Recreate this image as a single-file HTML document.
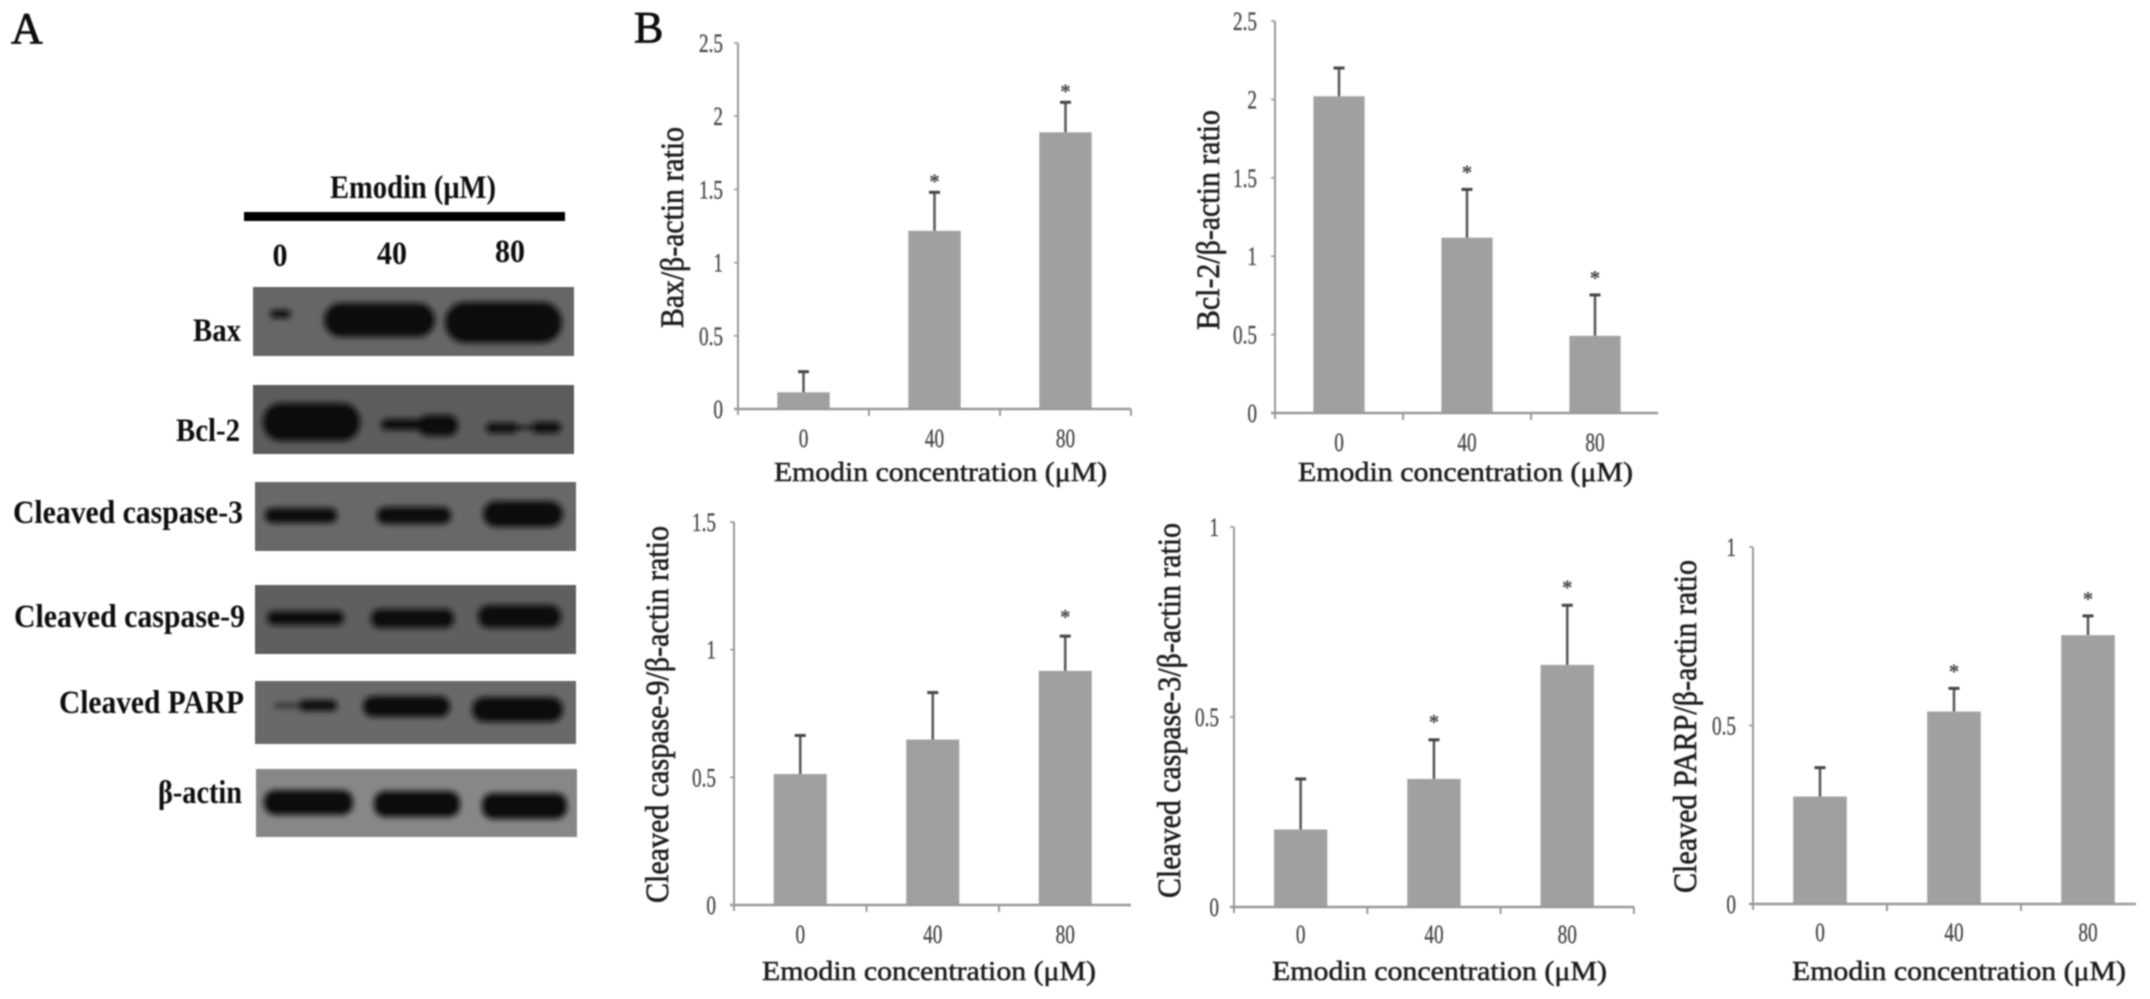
<!DOCTYPE html>
<html lang="en">
<head>
<meta charset="utf-8">
<title>Emodin western blot and quantification</title>
<style>
html,body{margin:0;padding:0;background:#fff;width:2150px;height:999px;overflow:hidden}
svg{display:block;font-family:"Liberation Serif","Noto Serif CJK SC",serif}
</style>
</head>
<body>
<svg id="fig" xmlns="http://www.w3.org/2000/svg" width="2150" height="999" viewBox="0 0 2150 999">
<defs>
<filter id="soft" x="-5%" y="-5%" width="110%" height="110%"><feGaussianBlur stdDeviation="0.7"/></filter>
<filter id="band" x="-20%" y="-60%" width="140%" height="220%"><feGaussianBlur stdDeviation="3"/></filter>
</defs>
<rect width="2150" height="999" fill="#fff"/>
<g id="root" filter="url(#soft)">
<text x="11" y="43" font-size="44" fill="#111" stroke="#111" stroke-width="0.8">A</text>
<text x="634" y="42" font-size="44" fill="#111" stroke="#111" stroke-width="0.8">B</text>

<g fill="#111">
<text x="330" y="198" font-size="33" font-weight="bold" textLength="166" lengthAdjust="spacingAndGlyphs">Emodin (μM)</text>
<rect x="244" y="212" width="321" height="9" fill="#000"/>
<text x="280" y="266" font-size="33" font-weight="bold" text-anchor="middle" textLength="15" lengthAdjust="spacingAndGlyphs">0</text>
<text x="392" y="264" font-size="33" font-weight="bold" text-anchor="middle" textLength="30" lengthAdjust="spacingAndGlyphs">40</text>
<text x="510" y="262" font-size="33" font-weight="bold" text-anchor="middle" textLength="30" lengthAdjust="spacingAndGlyphs">80</text>

<text x="193" y="341" font-size="33" font-weight="bold" textLength="48" lengthAdjust="spacingAndGlyphs">Bax</text>
<text x="176" y="441" font-size="33" font-weight="bold" textLength="64" lengthAdjust="spacingAndGlyphs">Bcl-2</text>
<text x="13" y="523" font-size="33" font-weight="bold" textLength="230" lengthAdjust="spacingAndGlyphs">Cleaved caspase-3</text>
<text x="14" y="627" font-size="33" font-weight="bold" textLength="231" lengthAdjust="spacingAndGlyphs">Cleaved caspase-9</text>
<text x="59" y="713" font-size="33" font-weight="bold" textLength="185" lengthAdjust="spacingAndGlyphs">Cleaved PARP</text>
<text x="158" y="803" font-size="33" font-weight="bold" textLength="84" lengthAdjust="spacingAndGlyphs">β-actin</text>

<g>
<rect x="253" y="287" width="321" height="69" fill="#666"/>
<g filter="url(#band)" fill="#0c0c0c">
<rect x="270" y="310" width="21" height="8" rx="4"/>
<rect x="324" y="303" width="111" height="34" rx="17"/>
<rect x="445" y="302" width="117" height="41" rx="20"/>
</g></g>

<g>
<rect x="253" y="385" width="321" height="69" fill="#5c5c5c"/>
<g filter="url(#band)" fill="#0a0a0a">
<rect x="263" y="403" width="97" height="38" rx="18"/>
<rect x="381" y="419" width="54" height="11" rx="5"/>
<rect x="418" y="415" width="40" height="21" rx="10"/>
<rect x="486" y="423" width="32" height="10" rx="5"/>
<rect x="532" y="422" width="29" height="11" rx="5"/>
<rect x="510" y="426" width="30" height="3"/>
</g></g>

<g>
<rect x="255" y="482" width="321" height="69" fill="#686868"/>
<g filter="url(#band)" fill="#0e0e0e">
<rect x="265" y="508" width="72" height="15" rx="7"/>
<rect x="377" y="507" width="74" height="17" rx="8"/>
<rect x="483" y="501" width="80" height="26" rx="13"/>
</g></g>

<g>
<rect x="255" y="585" width="321" height="69" fill="#5e5e5e"/>
<g filter="url(#band)" fill="#0c0c0c">
<rect x="267" y="611" width="77" height="14" rx="7"/>
<rect x="371" y="609" width="83" height="19" rx="9"/>
<rect x="478" y="605" width="83" height="23" rx="11"/>
</g></g>

<g>
<rect x="255" y="681" width="321" height="63" fill="#696969"/>
<g filter="url(#band)" fill="#0d0d0d">
<rect x="298" y="700" width="39" height="11" rx="5"/>
<rect x="274" y="703" width="28" height="5" rx="2" fill="#333"/>
<rect x="363" y="696" width="87" height="21" rx="10"/>
<rect x="472" y="697" width="91" height="25" rx="12"/>
</g></g>

<g>
<rect x="256" y="769" width="321" height="68" fill="#878787"/>
<g filter="url(#band)" fill="#0e0e0e">
<rect x="264" y="790" width="89" height="25" rx="11"/>
<rect x="374" y="791" width="86" height="26" rx="11"/>
<rect x="482" y="793" width="85" height="26" rx="11"/>
</g></g>
</g>
<g id="charts"></g>
</g>
</svg>
<script>
const categories = ['0', '40', '80'];

const baxValues = [0.114, 1.217, 1.89];
const baxErrors = [0.141, 0.263, 0.205];
const baxStars = [0, 1, 1];
const baxTicks = ['0', '0.5', '1', '1.5', '2', '2.5'];

const bcl2Values = [2.02, 1.118, 0.492];
const bcl2Errors = [0.18, 0.308, 0.261];
const bcl2Stars = [0, 1, 1];
const bcl2Ticks = ['0', '0.5', '1', '1.5', '2', '2.5'];

const casp9Values = [0.513, 0.648, 0.917];
const casp9Errors = [0.151, 0.184, 0.136];
const casp9Stars = [0, 0, 1];
const casp9Ticks = ['0', '0.5', '1', '1.5'];

const casp3Values = [0.204, 0.337, 0.637];
const casp3Errors = [0.133, 0.103, 0.157];
const casp3Stars = [0, 1, 1];
const casp3Ticks = ['0', '0.5', '1'];

const parpValues = [0.301, 0.539, 0.753];
const parpErrors = [0.081, 0.065, 0.054];
const parpStars = [0, 1, 1];
const parpTicks = ['0', '0.5', '1'];

const xAxisTitle = 'Emodin concentration (μM)';

const NS = 'http://www.w3.org/2000/svg';
const chartsRoot = document.getElementById('charts');

function make(parent, tag, props, content) {
  const el = document.createElementNS(NS, tag);
  for (const k in props) el.setAttribute(k, props[k]);
  if (content !== undefined) el.textContent = content;
  parent.appendChild(el);
  return el;
}

function drawChart(c) {
  const g = make(chartsRoot, 'g', {});
  
  

  const maxTick = parseFloat(c.ticks[c.ticks.length - 1]);
  const yScale = function (v) { return c.y0 - (v / maxTick) * (c.y0 - c.yTop); };
  const xBand = function (i) { return c.x0 + c.band * (i + 0.5); };
  const barW = c.band * 0.4;

  c.values.forEach(function (v, i) {
    const bar = make(g, 'rect', { x: xBand(i) - barW / 2, y: yScale(v), width: barW, height: c.y0 - yScale(v), fill: '#a0a0a0' });
    
    

    const errTop = yScale(v + c.errors[i]);
    const stem = make(g, 'line', { x1: xBand(i), x2: xBand(i), y1: yScale(v), y2: errTop, stroke: '#5a5a5a', 'stroke-width': 2.6 });
    
    

    const cap = make(g, 'line', { x1: xBand(i) - 5.5, x2: xBand(i) + 5.5, y1: errTop, y2: errTop, stroke: '#444', 'stroke-width': 3 });
    
    

    if (c.stars[i]) {
      const star = make(g, 'text', { x: xBand(i), y: errTop - c.starGap + 11, 'font-size': 21, 'font-weight': 'bold', 'text-anchor': 'middle', fill: '#444' }, '*');
      
      
    }

    const xl = make(g, 'text', { transform: 'translate(' + xBand(i) + ',' + c.xLabelY + ') scale(0.74,1)', 'font-size': 26, 'text-anchor': 'middle', fill: '#444', stroke: '#444', 'stroke-width': 0.3 }, categories[i]);
    
    
  });

  const yAxis = make(g, 'line', { x1: c.x0, x2: c.x0, y1: c.yTop, y2: c.y0 + 6, stroke: '#999', 'stroke-width': 2 });
  
  

  const xAxis = make(g, 'line', { x1: c.x0 - 4, x2: c.xEnd, y1: c.y0, y2: c.y0, stroke: '#999', 'stroke-width': 2.4 });
  
  

  for (let i = 1; i <= categories.length; i++) {
    const px = Math.min(c.x0 + c.band * i, c.xEnd);
    if (c.x0 + c.band * i > c.xEnd) continue;
    const tick = make(g, 'line', { x1: px, x2: px, y1: c.y0, y2: c.y0 + 7, stroke: '#999', 'stroke-width': 2 });
    
    
  }

  c.ticks.forEach(function (label) {
    const py = yScale(parseFloat(label));
    const mark = make(g, 'line', { x1: c.x0 - 4, x2: c.x0, y1: py, y2: py, stroke: '#999', 'stroke-width': 1.6 });
    
    

    const yl = make(g, 'text', { transform: 'translate(' + c.yLabelX + ',' + (py + 9) + ') scale(0.74,1)', 'font-size': 26, 'text-anchor': 'end', fill: '#444', stroke: '#444', 'stroke-width': 0.3 }, label);
    
    
  });

  const yt = make(g, 'text', { transform: 'translate(' + c.yTitleX + ',' + c.yTitleBottom + ') rotate(-90)', 'font-size': 33, fill: '#1c1c1c', stroke: '#1c1c1c', 'stroke-width': 0.6, textLength: c.yTitleLen, lengthAdjust: 'spacingAndGlyphs' }, c.yTitle);
  
  

  const xt = make(g, 'text', { x: c.xTitleX, y: c.xTitleY, 'font-size': 27, fill: '#1c1c1c', stroke: '#1c1c1c', 'stroke-width': 0.5, textLength: c.xTitleLen, lengthAdjust: 'spacingAndGlyphs' }, xAxisTitle);
  
  
}

drawChart({ id: 'bax', values: baxValues, errors: baxErrors, stars: baxStars, ticks: baxTicks,
  x0: 738, xEnd: 1131, band: 131, y0: 409, yTop: 43, starGap: 15, xLabelY: 447, yLabelX: 723,
  yTitle: 'Bax/β-actin ratio', yTitleX: 683, yTitleBottom: 328, yTitleLen: 201,
  xTitleX: 774, xTitleY: 481, xTitleLen: 333 });

drawChart({ id: 'bcl2', values: bcl2Values, errors: bcl2Errors, stars: bcl2Stars, ticks: bcl2Ticks,
  x0: 1275, xEnd: 1658, band: 128, y0: 413, yTop: 21, starGap: 21, xLabelY: 451, yLabelX: 1257,
  yTitle: 'Bcl-2/β-actin ratio', yTitleX: 1219, yTitleBottom: 330, yTitleLen: 220,
  xTitleX: 1298, xTitleY: 481, xTitleLen: 335 });

drawChart({ id: 'caspase-9', values: casp9Values, errors: casp9Errors, stars: casp9Stars, ticks: casp9Ticks,
  x0: 734, xEnd: 1131, band: 132.5, y0: 905, yTop: 522, starGap: 23, xLabelY: 943, yLabelX: 716,
  yTitle: 'Cleaved caspase-9/β-actin ratio', yTitleX: 668, yTitleBottom: 903, yTitleLen: 377,
  xTitleX: 762, xTitleY: 980, xTitleLen: 334 });

drawChart({ id: 'caspase-3', values: casp3Values, errors: casp3Errors, stars: casp3Stars, ticks: casp3Ticks,
  x0: 1234, xEnd: 1634, band: 133.3, y0: 907, yTop: 527, starGap: 22, xLabelY: 943, yLabelX: 1219,
  yTitle: 'Cleaved caspase-3/β-actin ratio', yTitleX: 1180, yTitleBottom: 898, yTitleLen: 375,
  xTitleX: 1272, xTitleY: 980, xTitleLen: 335 });

drawChart({ id: 'parp', values: parpValues, errors: parpErrors, stars: parpStars, ticks: parpTicks,
  x0: 1753, xEnd: 2136, band: 134, y0: 904, yTop: 547, starGap: 21, xLabelY: 941, yLabelX: 1736,
  yTitle: 'Cleaved PARP/β-actin ratio', yTitleX: 1696, yTitleBottom: 893, yTitleLen: 333,
  xTitleX: 1792, xTitleY: 980, xTitleLen: 334 });
</script>
</body>
</html>
